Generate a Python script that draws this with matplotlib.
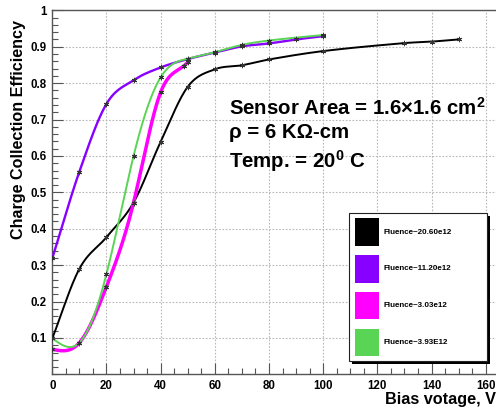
import numpy as np
import matplotlib
matplotlib.use("Agg")
import matplotlib.pyplot as plt
from matplotlib.patches import Rectangle
from matplotlib.ticker import MultipleLocator

plt.rcParams['font.family'] = ['Liberation Sans', 'DejaVu Sans']
plt.rcParams['font.weight'] = 'bold'
plt.rcParams['mathtext.fontset'] = 'custom'
plt.rcParams['mathtext.rm'] = 'Liberation Sans:bold'
plt.rcParams['mathtext.bf'] = 'Liberation Sans:bold'
plt.rcParams['mathtext.it'] = 'Liberation Sans:bold'
plt.rcParams['mathtext.default'] = 'bf'

# ---- data: charge collection efficiency vs bias voltage ----
v_2060 = [0, 10, 20, 30, 40, 50, 60, 70, 80, 100, 130, 140, 150]
cce_2060 = [0.099, 0.290, 0.377, 0.472, 0.639, 0.790, 0.838, 0.849, 0.865, 0.888, 0.910, 0.914, 0.920]

v_1120 = [0, 10, 20, 30, 40, 50, 60, 70, 80, 90, 100]
cce_1120 = [0.319, 0.557, 0.743, 0.808, 0.843, 0.866, 0.884, 0.901, 0.909, 0.920, 0.929]

v_303 = [0, 10, 20, 30, 40, 48.5, 50]
cce_303 = [0.069, 0.087, 0.241, 0.472, 0.775, 0.847, 0.857]

v_393 = [0, 10, 20, 30, 40, 50, 60, 70, 80, 100]
cce_393 = [0.099, 0.087, 0.276, 0.600, 0.816, 0.867, 0.885, 0.905, 0.917, 0.932]

labels = ["Fluence~20.60e12", "Fluence~11.20e12", "Fluence~3.03e12", "Fluence~3.93E12"]
colors = ["#000000", "#8800ff", "#ff00ff", "#59d454"]
widths = [1.4, 1.7, 2.5, 1.4]
smoothing = ["hermite", "hermite", "natural", "natural"]

x_ticks = [0, 20, 40, 60, 80, 100, 120, 140, 160]
y_ticks = [0.1, 0.2, 0.3, 0.4, 0.5, 0.6, 0.7, 0.8, 0.9, 1.0]
y_ticklabels = ["0.1", "0.2", "0.3", "0.4", "0.5", "0.6", "0.7", "0.8", "0.9", "1"]


def natural_spline(x, y, n=400):
    """Smooth curve through the points (natural cubic spline)."""
    x = np.asarray(x, float)
    y = np.asarray(y, float)
    k = len(x)
    h = np.diff(x)
    A = np.zeros((k, k))
    b = np.zeros(k)
    A[0, 0] = A[-1, -1] = 1.0
    for i in range(1, k - 1):
        A[i, i - 1] = h[i - 1]
        A[i, i] = 2 * (h[i - 1] + h[i])
        A[i, i + 1] = h[i]
        b[i] = 6 * ((y[i + 1] - y[i]) / h[i] - (y[i] - y[i - 1]) / h[i - 1])
    M = np.linalg.solve(A, b)
    xs = np.linspace(x[0], x[-1], n)
    idx = np.clip(np.searchsorted(x, xs) - 1, 0, k - 2)
    x0, x1 = x[idx], x[idx + 1]
    hh = x1 - x0
    a = (x1 - xs) / hh
    c = (xs - x0) / hh
    ys = (a * y[idx] + c * y[idx + 1]
          + ((a ** 3 - a) * M[idx] + (c ** 3 - c) * M[idx + 1]) * hh ** 2 / 6)
    return xs, ys


def hermite_spline(x, y, n=400):
    """Smooth curve through the points (cubic Hermite, centred tangents)."""
    x = np.asarray(x, float)
    y = np.asarray(y, float)
    k = len(x)
    m = np.empty(k)
    m[0] = (y[1] - y[0]) / (x[1] - x[0])
    m[-1] = (y[-1] - y[-2]) / (x[-1] - x[-2])
    m[1:-1] = (y[2:] - y[:-2]) / (x[2:] - x[:-2])
    xs = np.linspace(x[0], x[-1], n)
    idx = np.clip(np.searchsorted(x, xs) - 1, 0, k - 2)
    hh = x[idx + 1] - x[idx]
    t = (xs - x[idx]) / hh
    h00 = 2 * t ** 3 - 3 * t ** 2 + 1
    h10 = t ** 3 - 2 * t ** 2 + t
    h01 = -2 * t ** 3 + 3 * t ** 2
    h11 = t ** 3 - t ** 2
    ys = h00 * y[idx] + h10 * hh * m[idx] + h01 * y[idx + 1] + h11 * hh * m[idx + 1]
    return xs, ys


W, H = 496, 412
fig = plt.figure(figsize=(W / 100, H / 100), dpi=100)


def fx(px):
    return px / W


def fy(py):
    return 1 - py / H


left_px, right_px, top_px, bot_px = 52.3, 499.3, 10.3, 374.4
ax = fig.add_axes([fx(left_px), fy(bot_px), (right_px - left_px) / W, (bot_px - top_px) / H])
ax.set_xlim(0, 165)
ax.set_ylim(0, 1)

series = [(v_2060, cce_2060), (v_1120, cce_1120), (v_303, cce_303), (v_393, cce_393)]
for (vx, vy), col, lw, sm in zip(series, colors, widths, smoothing):
    fn = hermite_spline if sm == "hermite" else natural_spline
    xs, ys = fn(vx, vy)
    ax.plot(xs, ys, color=col, lw=lw, zorder=3)
    ax.plot(vx, vy, ls='none', marker=(6, 2, 0), ms=3.8, mew=0.7, color='#333333', zorder=4)

ax.set_xticks(x_ticks)
ax.set_yticks(y_ticks)
ax.set_yticklabels(y_ticklabels)
ax.xaxis.set_minor_locator(MultipleLocator(5))
ax.yaxis.set_minor_locator(MultipleLocator(0.02))
ax.tick_params(which='both', direction='in', colors='#555555', labelcolor='black',
               labelsize=8.3, top=False, right=False)
ax.tick_params(which='major', length=8, width=0.8, pad=4)
ax.tick_params(which='minor', length=4, width=0.8)
for lab in ax.get_xticklabels() + ax.get_yticklabels():
    lab.set_fontweight('bold')
ax.grid(True, which='major', color='#b8b8b8', lw=0.8, ls=(0, (1.5, 1.5)), zorder=0)
for s in ax.spines.values():
    s.set_color('#555555')
    s.set_linewidth(1.0)

fig.text(fx(19), fy(20), "Charge Collection Efficiency", rotation=90, ha='center',
         va='top', fontsize=11.6, fontweight='bold')
fig.text(fx(385), fy(404.3), "Bias votage, V", ha='left', va='baseline',
         fontsize=11.7, fontweight='bold')

fig.text(fx(229.3), fy(114.3), r"Sensor Area = 1.6$\times$1.6 cm$^{2}$", ha='left',
         va='baseline', fontsize=14.7, fontweight='bold')
fig.text(fx(229.3), fy(138.3), "ρ = 6 KΩ-cm", ha='left', va='baseline',
         fontsize=14.7, fontweight='bold')
fig.text(fx(229.3), fy(167.5), r"Temp. = 20$^{0}$ C", ha='left', va='baseline',
         fontsize=14.7, fontweight='bold')

# legend box with shadow
lx0, ly0, lx1, ly1 = 349.3, 213.3, 486.7, 361.0
sh = 3
fig.add_artist(Rectangle((fx(lx0 + sh), fy(ly1 + sh)), (lx1 - lx0) / W, (ly1 - ly0) / H,
                         transform=fig.transFigure, facecolor='black', edgecolor='none', zorder=5))
fig.add_artist(Rectangle((fx(lx0), fy(ly1)), (lx1 - lx0) / W, (ly1 - ly0) / H,
                         transform=fig.transFigure, facecolor='white', edgecolor='#222222',
                         lw=0.8, zorder=6))
rows = [(218.3, 245.7), (255.0, 282.7), (291.7, 319.0), (329.0, 356.0)]
for (r0, r1), col, lab in zip(rows, colors, labels):
    fig.add_artist(Rectangle((fx(354.7), fy(r1)), (378.7 - 354.7) / W, (r1 - r0) / H,
                             transform=fig.transFigure, facecolor=col, edgecolor='none', zorder=7))
    fig.text(fx(383.3), fy((r0 + r1) / 2), lab, ha='left', va='center', fontsize=5.8,
             fontweight='bold', zorder=8)

fig.savefig("out.png", dpi=100)
